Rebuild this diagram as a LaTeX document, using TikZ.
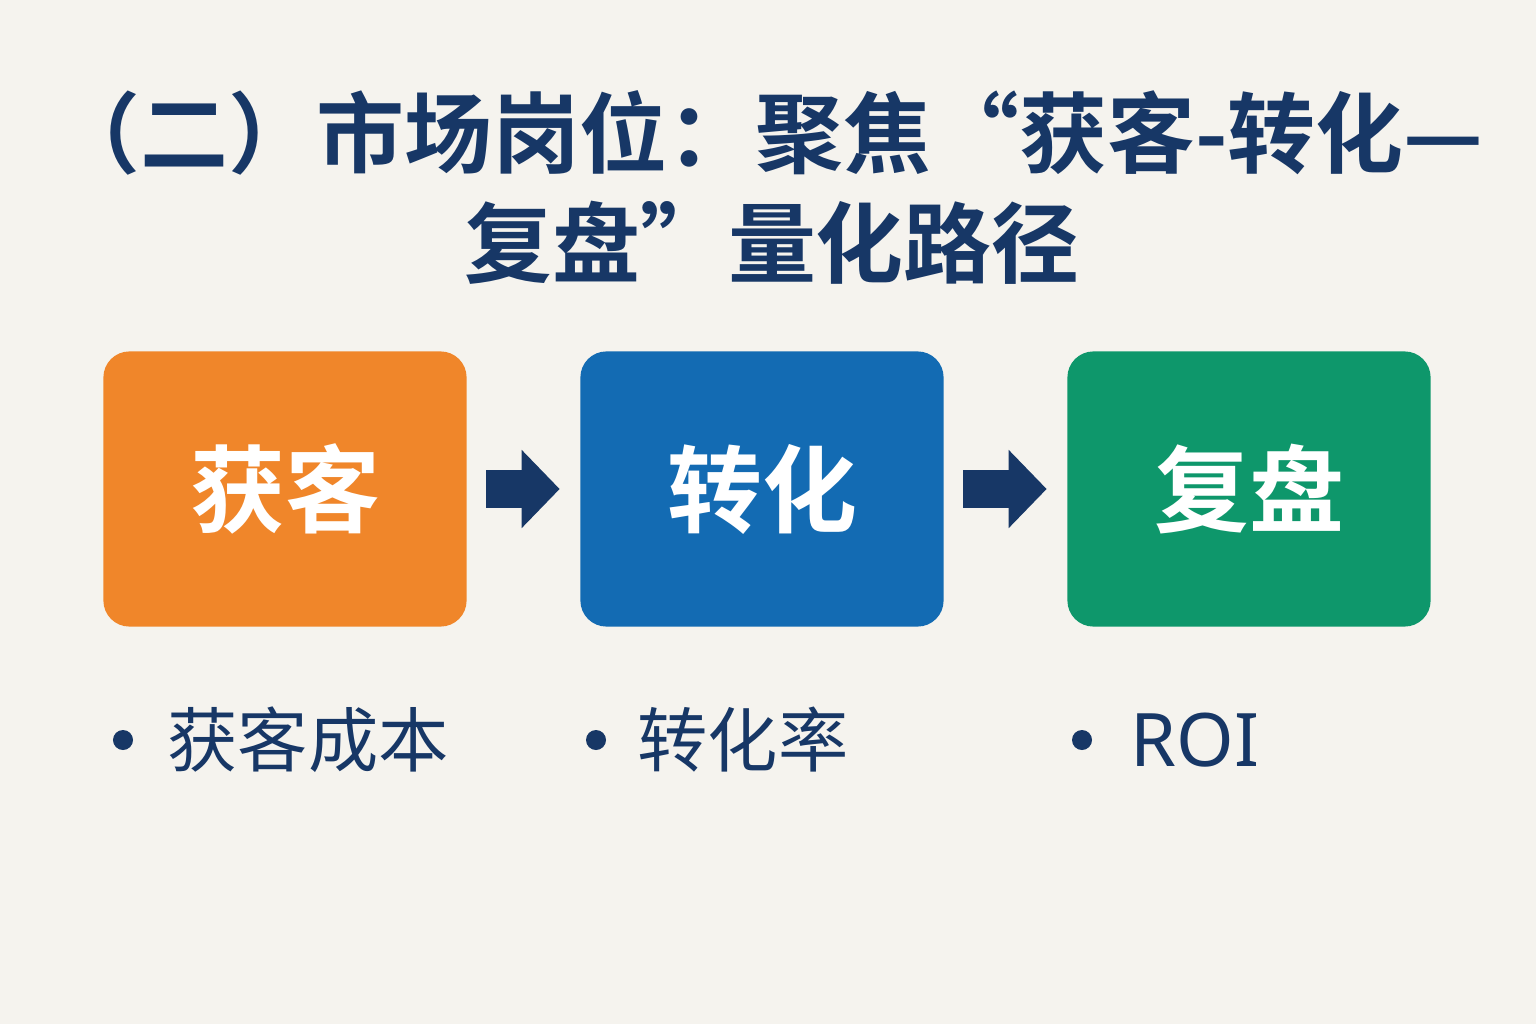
\documentclass[tikz,border=0pt]{standalone}
\usepackage{fontspec}
\newfontfamily\cjk{Noto Sans CJK SC}
\newfontfamily\cjkb{Noto Sans CJK SC Bold}
\usetikzlibrary{arrows.meta}
\definecolor{bgc}{HTML}{F5F3EE}
\definecolor{navy}{HTML}{173766}
\definecolor{orng}{HTML}{F0862A}
\definecolor{blu}{HTML}{136BB3}
\definecolor{grn}{HTML}{0E976B}
\tikzset{
  stage/.style = {rounded corners=0.26cm, minimum width=3.63cm, minimum height=2.75cm,
                  text=white, font=\cjkb\fontsize{27}{30}\selectfont},
  flow/.style  = {navy, line width=0.38cm, shorten <=0.19cm, shorten >=0.2cm,
                  -{Triangle[length=0.38cm,width=0.76cm]}},
  metric/.style = {anchor=west, text=navy, font=\cjk\fontsize{20}{24}\selectfont},
  dot/.style = {circle, fill=navy, inner sep=0pt, minimum size=0.2cm},
}
\begin{document}
\begin{tikzpicture}[x=0.01cm, y=-0.01cm]
	\fill[bgc] (0, 0) rectangle (1536, 1024);
	\node[text=navy, font=\cjkb\fontsize{25}{30}\selectfont] (t1) at (768, 133) {（二）市场岗位：聚焦“获客-转化—};
	\node[text=navy, font=\cjkb\fontsize{25}{30}\selectfont] (t2) at (772, 243) {复盘”量化路径};
	\node[stage, fill=orng] (acq) at (285, 489) {获客};
	\node[stage, fill=blu] (conv) at (762, 489) {转化};
	\node[stage, fill=grn] (rev) at (1249, 489) {复盘};
	\draw[flow] (acq) -- (conv);
	\draw[flow] (conv) -- (rev);
	\node[dot] (d1) at (123, 740) {};
	\node[dot] (d2) at (596, 740) {};
	\node[dot] (d3) at (1082, 740) {};
	\node[metric] (m1) at (155, 740) {获客成本};
	\node[metric] (m2) at (625, 740) {转化率};
	\node[metric, font=\fontspec{Noto Sans}\fontsize{21}{24}\selectfont] (m3) at (1118, 740) {ROI};
\end{tikzpicture}
\end{document}
